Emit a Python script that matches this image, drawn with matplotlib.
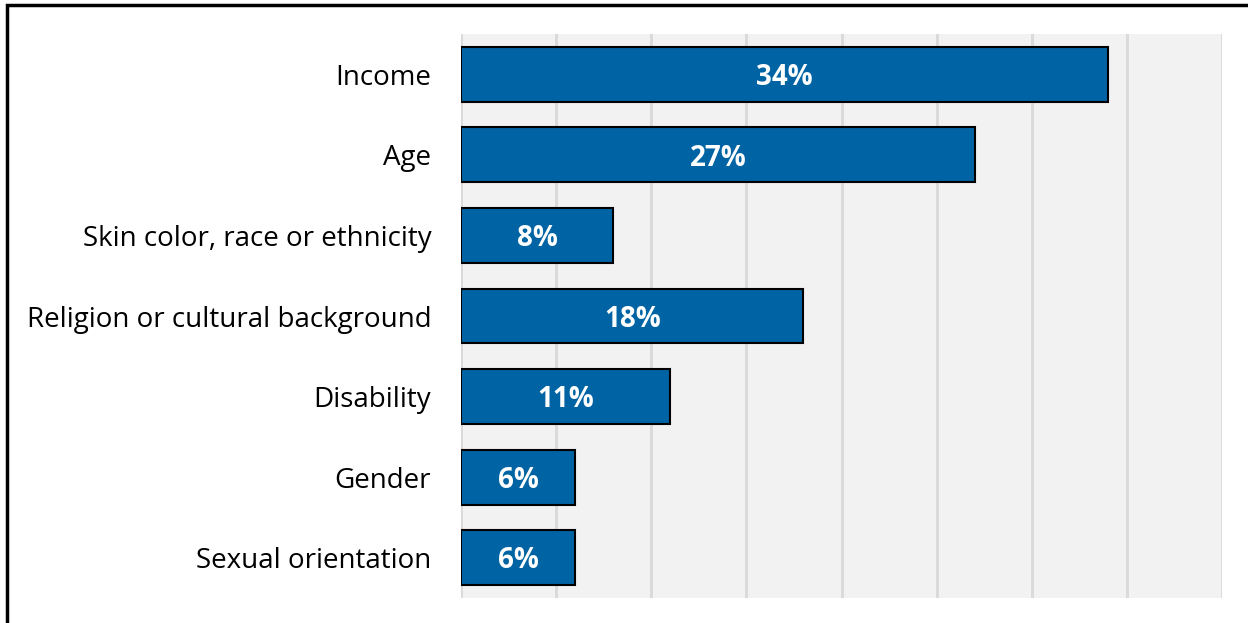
import matplotlib.pyplot as plt
import matplotlib.patches as patches

# data
categories = ["Income", "Age", "Skin color, race or ethnicity",
              "Religion or cultural background", "Disability", "Gender",
              "Sexual orientation"]
values = [34, 27, 8, 18, 11, 6, 6]
bar_labels = ["34%", "27%", "8%", "18%", "11%", "6%", "6%"]

fig = plt.figure(figsize=(12.48, 6.23), dpi=100)
ax = fig.add_axes([461 / 1248, 1 - 598 / 623, (1222 - 461) / 1248, (598 - 34) / 623])
ax.set_facecolor("#F2F2F2")

ypos = list(range(len(categories)))
ax.barh(ypos, values, height=0.68, color="#0063A3", edgecolor="black",
        linewidth=1.5, zorder=3)

for y, v, lab in zip(ypos, values, bar_labels):
    ax.text(v / 2, y + 0.04, lab, ha="center", va="center", color="white",
            fontsize=20, fontweight="bold", family="Open Sans", zorder=4)

ax.set_xlim(0, 40)
ax.set_ylim(len(categories) - 0.5, -0.5)
ax.set_xticks(range(0, 41, 5))
ax.xaxis.grid(True, color="#D9D9D9", linewidth=2, zorder=0)
ax.set_axisbelow(True)
ax.tick_params(axis="x", bottom=False, labelbottom=False)
ax.tick_params(axis="y", left=False, pad=18)
ax.set_yticks(ypos)
ax.set_yticklabels(categories, fontsize=20, family="Open Sans")
for s in ax.spines.values():
    s.set_visible(False)

# outer frame
fig.patches.append(patches.Rectangle((7 / 1248, -0.1), 1.2, 1 - 5 / 623 + 0.1,
                                     transform=fig.transFigure, fill=False,
                                     edgecolor="black", linewidth=2.5))

fig.savefig("out.png", dpi=100)
